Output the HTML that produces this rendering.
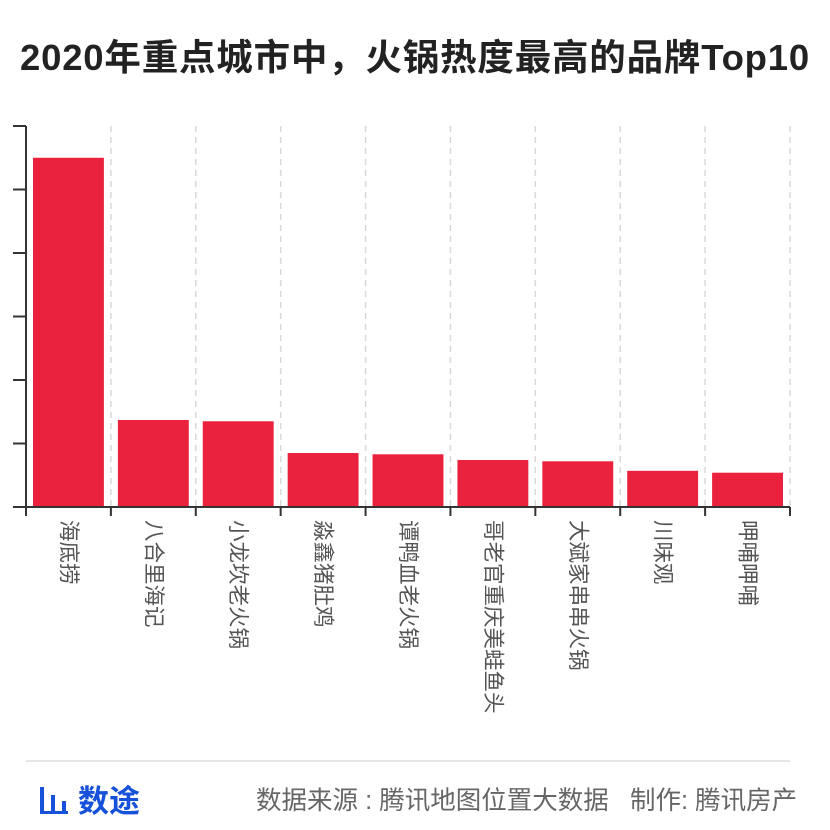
<!DOCTYPE html>
<html><head><meta charset="utf-8"><style>
body{margin:0;width:830px;height:830px;background:#fff;overflow:hidden;font-family:"Liberation Sans","Noto Sans CJK SC",sans-serif;}
#title{position:absolute;left:0;top:28px;width:830px;text-align:center;font-size:36.5px;font-weight:bold;color:#222;white-space:nowrap;letter-spacing:0.8px;}
svg{position:absolute;left:0;top:0;}
.lbl{position:absolute;top:520px;writing-mode:vertical-rl;text-orientation:sideways;font-size:21.5px;line-height:24px;color:#555;white-space:nowrap;}
#foot-line{position:absolute;left:26px;top:760px;width:764px;height:2px;background:#e6e6e6;}
#logo{position:absolute;left:40px;top:776px;font-size:31px;font-weight:bold;color:#1652d9;white-space:nowrap;}
#src{position:absolute;left:256px;top:780px;font-size:25.5px;color:#666;white-space:nowrap;}
</style></head><body>
<div id="title">2020年重点城市中，火锅热度最高的品牌Top10</div>
<svg id="chart" width="830" height="830"></svg>
<div id="labels"></div>
<div id="foot-line"></div>
<div id="logo"><span style="display:inline-block;width:28px;height:24px;border-bottom:3px solid #1652d9;position:relative;vertical-align:-2px;margin-right:10px"><i style="position:absolute;left:0;bottom:0;width:4px;height:24px;background:#1652d9"></i><i style="position:absolute;left:11px;bottom:0;width:4px;height:16px;background:#1652d9"></i><i style="position:absolute;left:22px;bottom:0;width:4px;height:10px;background:#1652d9"></i></span>数途</div>
<div id="src">数据来源 : 腾讯地图位置大数据&nbsp;&nbsp;&nbsp;制作: 腾讯房产</div>
<script>
const categories=["海底捞","八合里海记","小龙坎老火锅","淼鑫猪肚鸡","谭鸭血老火锅","哥老官重庆美蛙鱼头","大斌家串串火锅","川味观","呷哺呷哺"];
const values=[5.5,1.37,1.35,0.85,0.83,0.74,0.72,0.57,0.54];
const yTicks=[0,1,2,3,4,5,6];
const NS="http://www.w3.org/2000/svg";
const svg=document.getElementById('chart');
const x0=26,x1=790,y0=507,yTop=126,yMax=6;
const slot=(x1-x0)/categories.length;
const xs=i=>x0+i*slot;
const ys=v=>y0-(v/yMax)*(y0-yTop);
function mk(t,a){const e=document.createElementNS(NS,t);for(const k in a)e.setAttribute(k,a[k]);svg.appendChild(e);return e;}
for(let i=1;i<=categories.length;i++){
  const g=mk('line',{x1:xs(i),x2:xs(i),y1:yTop,y2:y0,stroke:'#d8d8d8','stroke-width':1.5,'stroke-dasharray':'6,5'});
  
  
}
values.forEach((v,i)=>{
  const r=mk('rect',{x:xs(i)+7,y:ys(v),width:slot-14,height:y0-ys(v),fill:'#ea223d'});
  
  
  const d=document.createElement('div');
  d.className='lbl';d.textContent=categories[i];
  d.style.left=(xs(i)+slot/2-12)+'px';
  
  
  document.getElementById('labels').appendChild(d);
});
const ya=mk('line',{x1:x0,x2:x0,y1:yTop,y2:y0,stroke:'#333','stroke-width':2});


yTicks.forEach(t=>{
  const l=mk('line',{x1:x0-13,x2:x0,y1:ys(t),y2:ys(t),stroke:'#333','stroke-width':2});
  
  
});
const xa=mk('line',{x1:x0-13,x2:x1,y1:y0,y2:y0,stroke:'#333','stroke-width':2});


for(let i=0;i<=categories.length;i++){
  const l=mk('line',{x1:xs(i),x2:xs(i),y1:y0,y2:y0+9,stroke:'#333','stroke-width':2});
  
  
}
</script>
</body></html>
